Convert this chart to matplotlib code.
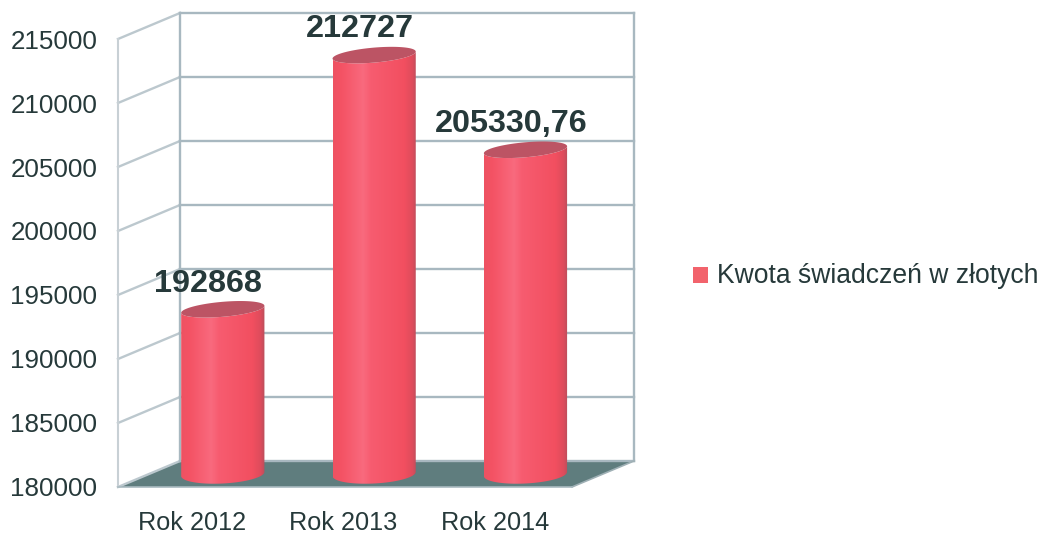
import numpy as np
import matplotlib
matplotlib.use("Agg")
import matplotlib.pyplot as plt
from matplotlib.colors import LinearSegmentedColormap
from matplotlib.patches import Polygon, Rectangle

plt.rcParams['font.family'] = ['Liberation Sans', 'DejaVu Sans']

# data
categories = ["Rok 2012", "Rok 2013", "Rok 2014"]
values = [192868, 212727, 205330.76]
value_labels = ["192868", "212727", "205330,76"]
y_ticks = [180000, 185000, 190000, 195000, 200000, 205000, 210000, 215000]
series_name = "Kwota świadczeń w złotych"

W, H = 1051, 535
text_col = "#26393A"
grid_col = "#A8B8C0"
wall_col = "#BCC8CE"
floor_col = "#5F7D7E"

fig = plt.figure(figsize=(W / 100, H / 100), dpi=100)
# front plane of the fake 3d box
ax = fig.add_axes([118 / W, 1 - 487 / H, 454 / W, 448 / H])
y0, y1 = y_ticks[0], y_ticks[-1]
ax.set_xlim(0, 3)
ax.set_ylim(y0, y1)

# depth of the box in data units
dep_x = 62 / (454 / 3)
dep_y = 26 / (448 / (y1 - y0))

# floor
ax.add_patch(Polygon([(0, y0), (dep_x, y0 + dep_y), (3 + dep_x, y0 + dep_y), (3, y0)],
                     closed=True, fc=floor_col, ec="none", clip_on=False, zorder=1))

# walls and grid
for t in y_ticks:
    ax.plot([0, dep_x], [t, t + dep_y], color=wall_col, lw=1.7, clip_on=False, zorder=2)
    ax.plot([dep_x, 3 + dep_x], [t + dep_y, t + dep_y], color=grid_col, lw=1.7, clip_on=False, zorder=2)
ax.plot([0, 0], [y0, y1], color="#C8D0D5", lw=1.5, clip_on=False, zorder=2)
ax.plot([dep_x, dep_x], [y0 + dep_y, y1 + dep_y], color=grid_col, lw=1.7, clip_on=False, zorder=2)
ax.plot([3 + dep_x, 3 + dep_x], [y0 + dep_y, y1 + dep_y], color=grid_col, lw=1.7, clip_on=False, zorder=2)
ax.plot([3, 3 + dep_x], [y0, y0 + dep_y], color="#9FB0B5", lw=1.2, clip_on=False, zorder=2)
ax.plot([0, 3], [y0, y0], color="#A9BAC0", lw=1.2, clip_on=False, zorder=2)

# cylinders
cyl_cmap = LinearSegmentedColormap.from_list("cyl", [
    (0.0, "#EE5262"), (0.1, "#F45264"), (0.36, "#F96A7E"), (0.45, "#F75C70"),
    (0.85, "#F24F60"), (0.95, "#DE4C5C"), (1.0, "#B8505C")])
half_w = 0.275
cap_b = 7.5 / (448 / (y1 - y0))
skew = 3.5 / (448 / (y1 - y0))
low_b = 9.5 / (448 / (y1 - y0))
t_low = np.linspace(np.pi, 2 * np.pi, 40)
t_all = np.linspace(0, 2 * np.pi, 80)
for i, val in enumerate(values):
    cx = i + 0.5 + dep_x * 0.47
    base = y0 + dep_y * 0.5
    top = val + dep_y * 0.5
    # body outline: lower half of the bottom ellipse, then back along the top one
    bx = cx + half_w * np.cos(t_low)
    by = base + low_b * np.sin(t_low) + skew * np.cos(t_low) * 0.6
    tx = cx + half_w * np.cos(t_low[::-1])
    ty = top + cap_b * np.sin(t_low[::-1]) + skew * np.cos(t_low[::-1])
    body = Polygon(np.column_stack([np.r_[bx, tx], np.r_[by, ty]]), closed=True,
                   fc="none", ec="none", transform=ax.transData)
    ax.add_patch(body)
    im = ax.imshow(np.linspace(0, 1, 256).reshape(1, -1), cmap=cyl_cmap, aspect="auto",
                   extent=[cx - half_w, cx + half_w, y0 - dep_y, y1 + dep_y],
                   zorder=3, clip_on=True)
    im.set_clip_path(body)
    cap = Polygon(np.column_stack([cx + half_w * np.cos(t_all),
                                   top + cap_b * np.sin(t_all) + skew * np.cos(t_all)]),
                  closed=True, fc="#BC5464", ec="none", clip_on=False, zorder=4)
    ax.add_patch(cap)
    ax.annotate(value_labels[i], (cx, top), xytext=(-10.5, 18.5), textcoords="offset points",
                ha="center", va="center", fontsize=23.3, fontweight="bold", color=text_col,
                zorder=5, annotation_clip=False)
ax.set_xlim(0, 3)
ax.set_ylim(y0, y1)

ax.set_xticks(np.arange(len(categories)) + 0.5 - 0.01)
ax.set_xticklabels(categories, fontsize=18.2, color=text_col)
ax.set_yticks(y_ticks)
ax.set_yticklabels([str(t) for t in y_ticks], fontsize=18.7, color=text_col)
ax.tick_params(axis="x", length=0, pad=17.5)
ax.tick_params(axis="y", length=0, pad=15)
for s in ax.spines.values():
    s.set_visible(False)
ax.patch.set_alpha(0)

# legend
fig.add_artist(Rectangle((693 / W, 1 - 283 / H), 15 / W, 16 / H, transform=fig.transFigure,
                         fc="#F2636C", ec="none"))
fig.text(717 / W, 1 - 276 / H, series_name, fontsize=19.1, color=text_col, ha="left", va="center")

fig.savefig("out.png", dpi=100)
